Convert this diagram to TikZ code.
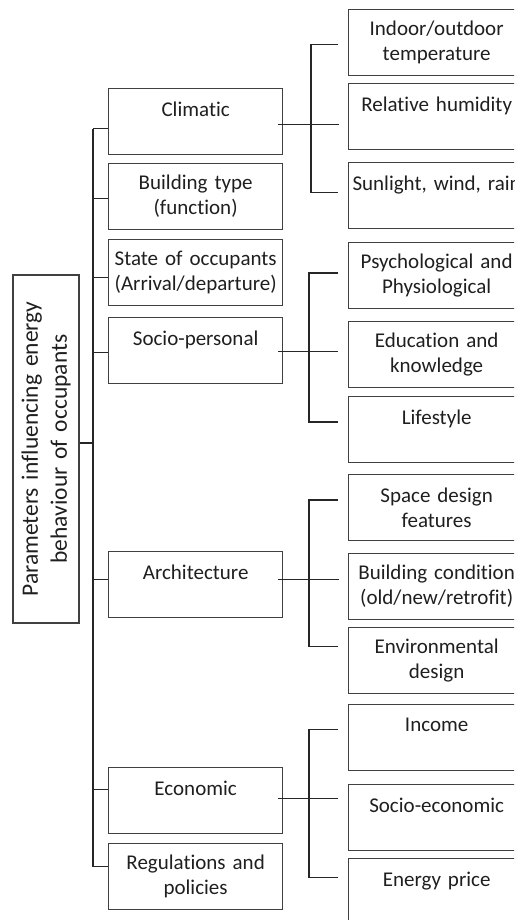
\documentclass[tikz,border=0pt]{standalone}
\usepackage{fontspec}
\setmainfont{Carlito}[Ligatures=NoCommon]
\usetikzlibrary{calc}

\begin{document}
\begin{tikzpicture}[x=1pt, y=-1pt,
  box/.style={draw=black!75, line width=1.3pt, text=black!88, align=center,
              text width=170pt, inner xsep=2pt, inner ysep=0pt, minimum height=66pt,
              anchor=north west, font=\fontsize{21}{25}\selectfont},
  subbox/.style={box, text width=172pt},
  link/.style={draw=black!85, line width=1.1pt},
  midlink/.style={link, line width=1.7pt}
]
  \useasboundingbox (0,0) rectangle (514,920);
  \clip (0,0) rectangle (514,920);

  \node[box, rotate=90, anchor=center, text width=344pt, font=\fontsize{23.5}{29}\selectfont] (root) at (46,449)
    {Parameters influencing energy\\behaviour of occupants};

  \node[box] (clim)  at (108,88)  {Climatic\\\mbox{}};
  \node[box] (btype) at (108,163) {Building type\\(function)};
  \node[box] (state) at (108,239) {State of occupants\\(Arrival/departure)};
  \node[box] (socio) at (108,317) {Socio-personal\\\mbox{}};
  \node[box] (arch)  at (108,551) {Architecture\\\mbox{}};
  \node[box] (econ)  at (108,767) {Economic\\\mbox{}};
  \node[box] (regs)  at (108,843) {Regulations and\\policies};

  \node[subbox] (temp)   at (348,9)   {Indoor/outdoor\\temperature};
  \node[subbox] (humid)  at (348,83)  {Relative humidity\\\mbox{}};
  \node[subbox] (sun)    at (348,162) {Sunlight, wind, rain\\\mbox{}};
  \node[subbox] (psych)  at (348,242) {Psychological and\\Physiological};
  \node[subbox] (edu)    at (348,321) {Education and\\knowledge};
  \node[subbox] (life)   at (348,396) {Lifestyle\\\mbox{}};
  \node[subbox] (space)  at (348,474) {Space design\\features};
  \node[subbox] (cond)   at (348,553) {Building condition\\(old/new/retrofit)};
  \node[subbox] (envd)   at (348,627) {Environmental\\design};
  \node[subbox] (income) at (348,704) {Income\\\mbox{}};
  \node[subbox] (soceco) at (348,784) {Socio-economic\\\mbox{}};
  \node[subbox] (price)  at (348,858) {Energy price\\\mbox{}};

  \coordinate (trtop) at ($(clim.west)+(-15pt,-7pt)$);
  \coordinate (trbot) at ($(regs.west)+(-15pt,10pt)$);
  \draw[link] (trtop) -- (trbot);
  \draw[link] ([yshift=6pt]root.south) -- ([yshift=6pt]root.south -| trtop);
  \draw[link] ([yshift=-7pt]clim.west)  -- ++(-15pt,0);
  \draw[link] ([yshift=-2pt]btype.west) -- ++(-15pt,0);
  \draw[link] ([yshift=-5pt]state.west) -- ++(-15pt,0);
  \draw[link] ([yshift=-2pt]socio.west) -- ++(-15pt,0);
  \draw[link] ([yshift=5pt]arch.west)   -- ++(-15pt,0);
  \draw[link] ([yshift=11pt]econ.west)  -- ++(-15pt,0);
  \draw[link] ([yshift=10pt]regs.west)  -- ++(-15pt,0);

  \draw[link] ([xshift=-10pt,yshift=-1.5pt]temp.west) -- ++(-27pt,0) |- ([xshift=-10pt,yshift=3.5pt]sun.west);
  \draw[midlink] ([xshift=-5pt,yshift=-3pt]clim.east) -- ($(clim.east -| humid.west)+(-9pt,-3pt)$);

  \draw[link, line width=1.6pt] ([xshift=-10pt,yshift=2.5pt]psych.west) -- ++(-29pt,0) |- ([xshift=-10pt,yshift=7.5pt]life.west);
  \draw[link] ([xshift=-5pt,yshift=-1pt]socio.east) -- ($(socio.east -| edu.west)+(-10pt,-1pt)$);

  \draw[link, line width=1.6pt] ([xshift=-10pt,yshift=7.5pt]space.west) -- ++(-29pt,0) |- ([xshift=-10pt,yshift=14pt]envd.west);
  \draw[link] ([xshift=-5pt,yshift=5pt]arch.east) -- ($(arch.east -| cond.west)+(-9pt,5pt)$);

  \draw[link] ([xshift=-10pt,yshift=8.5pt]income.west) -- ++(-29pt,0) |- ([xshift=-10pt,yshift=14pt]price.west);
  \draw[link] ([xshift=-5pt,yshift=2pt]econ.east) -- ($(econ.east -| soceco.west)+(-10pt,2pt)$);
\end{tikzpicture}
\end{document}
